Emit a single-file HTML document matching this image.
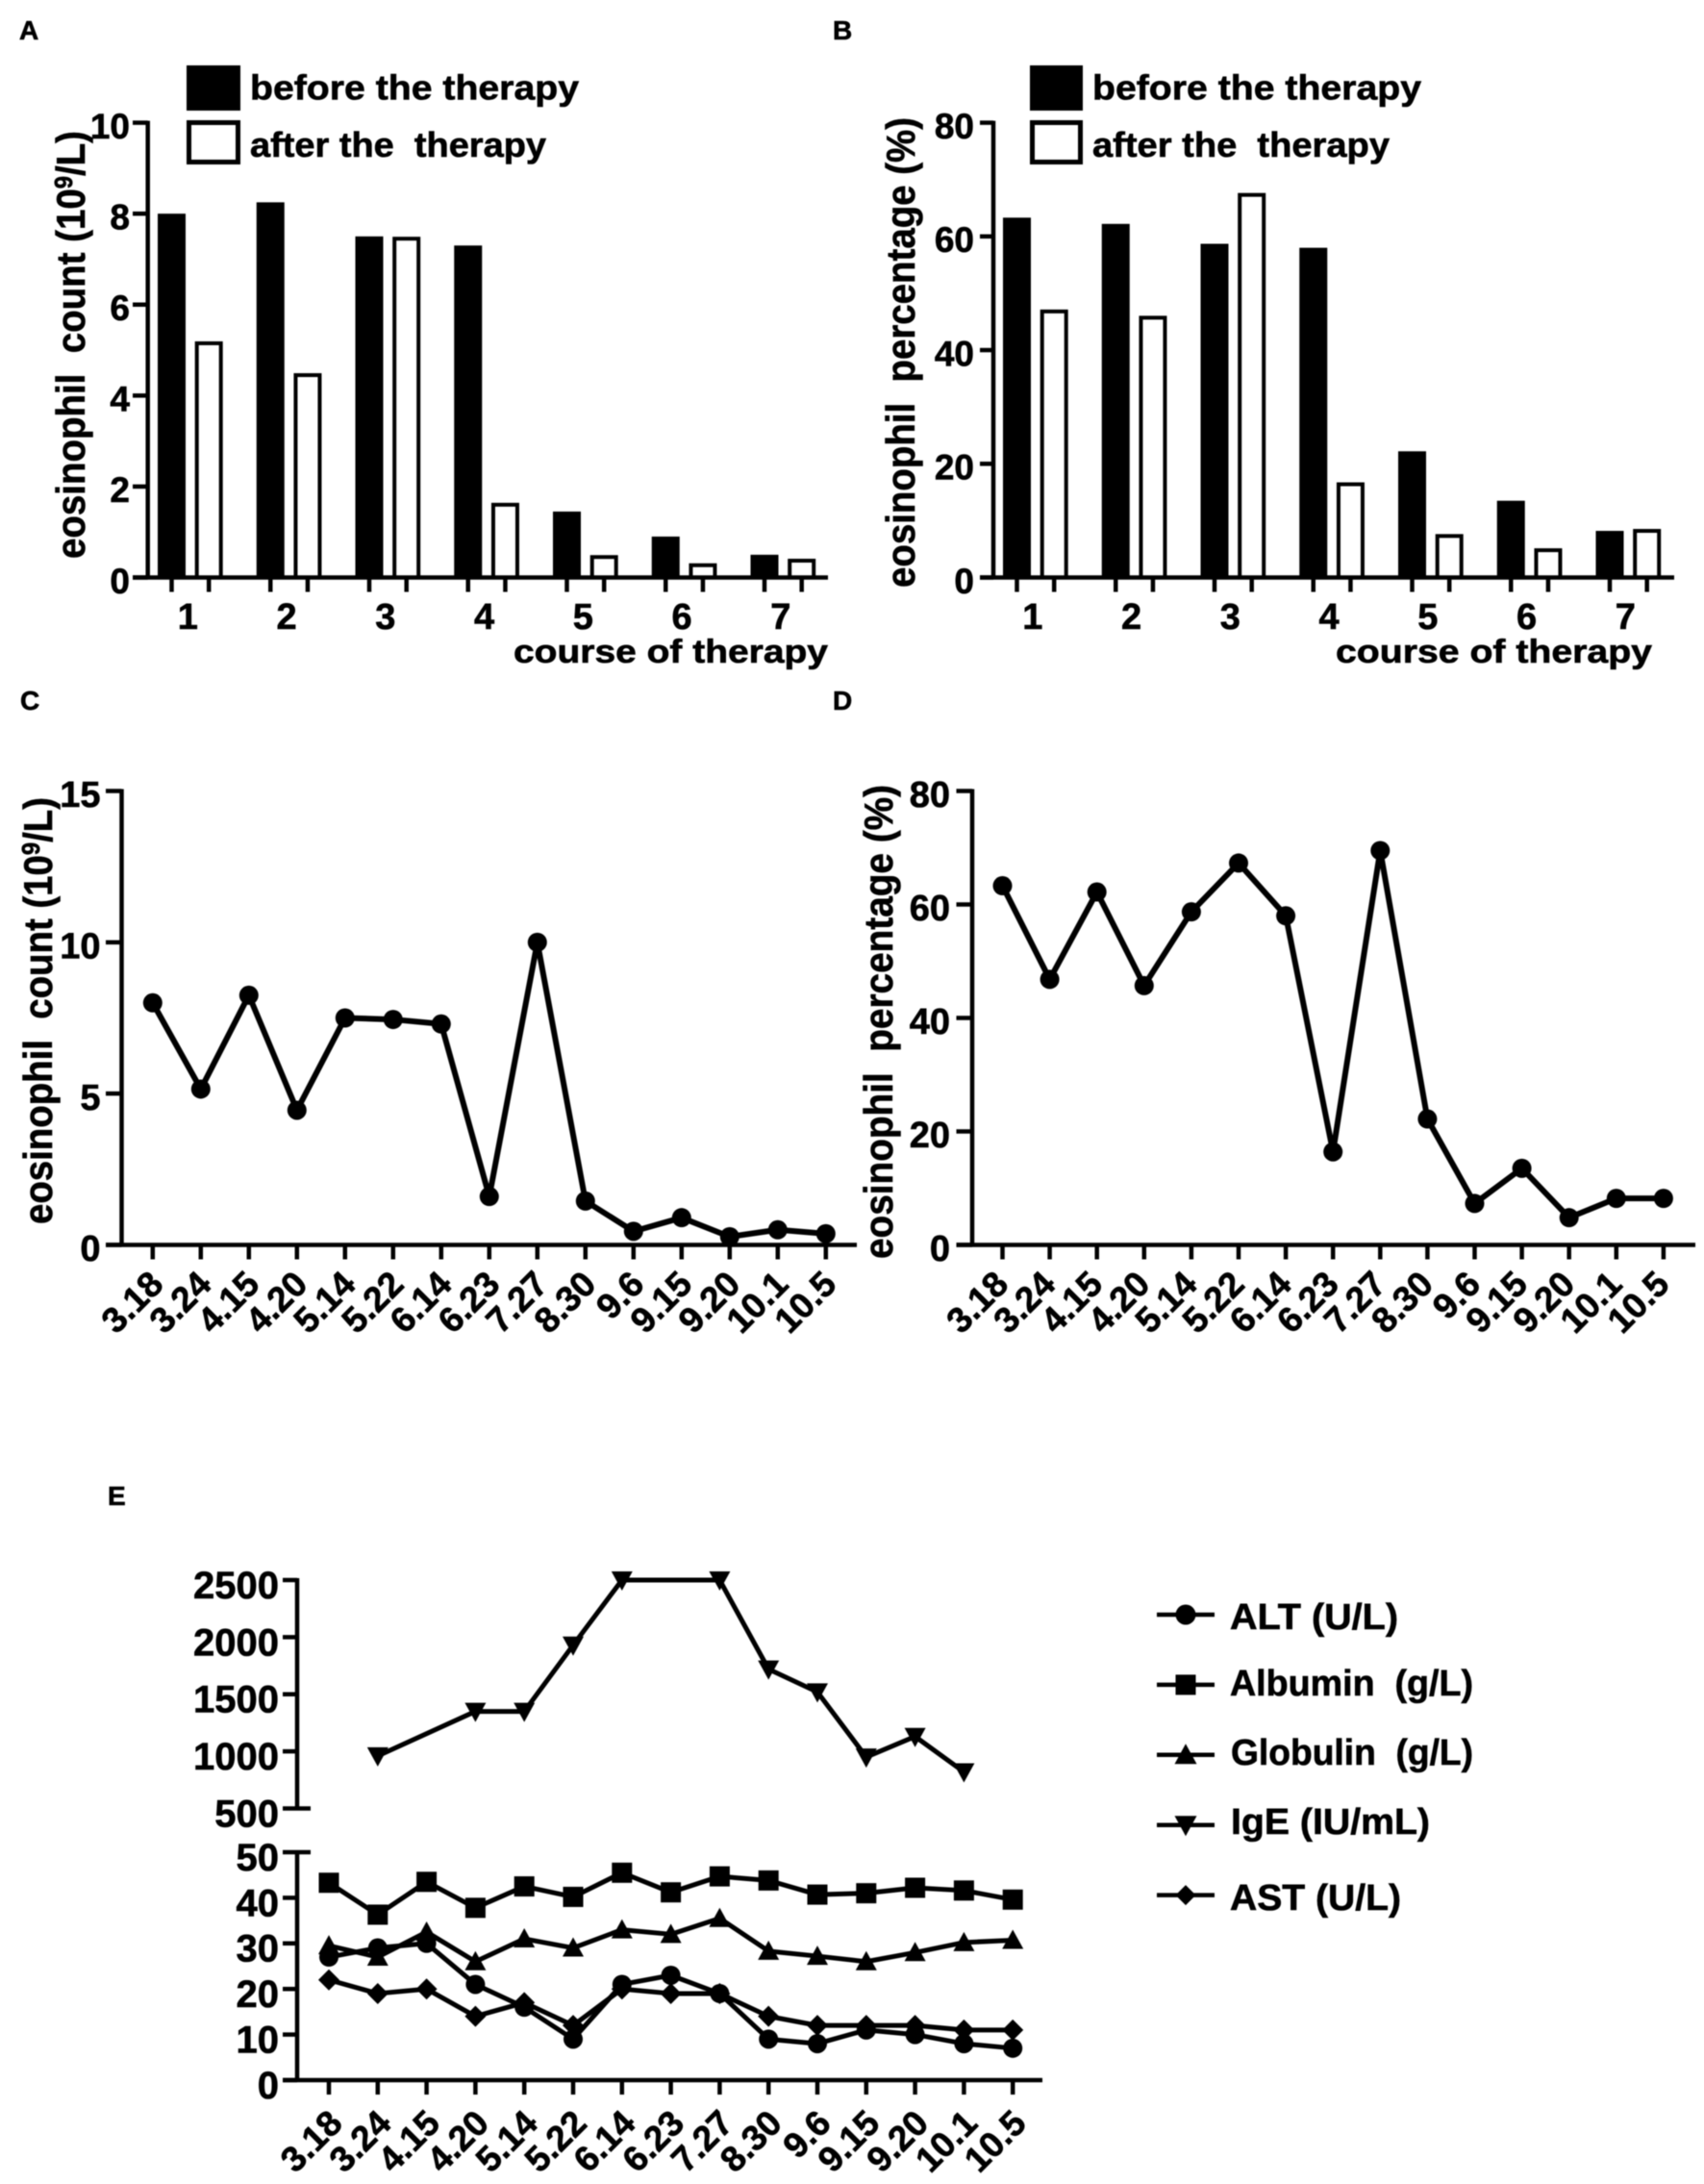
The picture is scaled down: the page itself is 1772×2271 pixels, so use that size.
<!DOCTYPE html>
<html lang="en">
<head>
<meta charset="utf-8">
<title>Eosinophil and laboratory values over therapy</title>
<style>
html,body{margin:0;padding:0;background:#fff}
#figure{display:block;filter:blur(0.6px)}
text{font-family:"Liberation Sans",Arial,sans-serif;font-weight:bold;fill:#000;stroke:#000;stroke-width:0.6px;white-space:pre}
</style>
</head>
<body>
<svg id="figure" xmlns="http://www.w3.org/2000/svg" width="1772" height="2271" viewBox="0 0 1772 2271">
  <rect x="0" y="0" width="1772" height="2271" fill="#fff"/>

  <text x="20" y="41" font-size="28">A</text>
  <text x="866" y="41" font-size="28">B</text>
  <text x="21" y="738" font-size="28">C</text>
  <text x="866" y="738" font-size="28">D</text>
  <text x="112" y="1565" font-size="28">E</text>

  <g id="panelA">
    <rect x="194" y="68" width="56" height="47" fill="#000"/>
    <rect x="196.5" y="127.5" width="51" height="41" fill="#fff" stroke="#000" stroke-width="5"/>
    <text x="260" y="103.5" font-size="36" textLength="342" lengthAdjust="spacingAndGlyphs">before the therapy</text>
    <text x="260" y="163" font-size="36" textLength="308" lengthAdjust="spacingAndGlyphs">after the  therapy</text>
    <text transform="translate(88,581) rotate(-90)" font-size="42" textLength="445" lengthAdjust="spacingAndGlyphs">eosinophil  count (10<tspan dy="-13" font-size="26">9</tspan><tspan dy="13">/L)</tspan></text>
    <text x="534" y="689" font-size="34" textLength="327" lengthAdjust="spacingAndGlyphs">course of therapy</text>
  </g>

  <g id="panelB">
    <rect x="1071" y="68" width="55" height="47" fill="#000"/>
    <rect x="1073.5" y="127.5" width="50" height="41" fill="#fff" stroke="#000" stroke-width="5"/>
    <text x="1136" y="103.5" font-size="36" textLength="342" lengthAdjust="spacingAndGlyphs">before the therapy</text>
    <text x="1136" y="163" font-size="36" textLength="309" lengthAdjust="spacingAndGlyphs">after the  therapy</text>
    <text transform="translate(951,611) rotate(-90)" font-size="42" textLength="489" lengthAdjust="spacingAndGlyphs">eosinophil  percentage (%)</text>
    <text x="1389" y="689" font-size="34" textLength="329" lengthAdjust="spacingAndGlyphs">course of therapy</text>
  </g>

  <g id="panelC">
    <text transform="translate(54,1273) rotate(-90)" font-size="42" textLength="444" lengthAdjust="spacingAndGlyphs">eosinophil  count (10<tspan dy="-13" font-size="26">9</tspan><tspan dy="13">/L)</tspan></text>
  </g>

  <g id="panelD">
    <text transform="translate(928,1309) rotate(-90)" font-size="42" textLength="493" lengthAdjust="spacingAndGlyphs">eosinophil  percentage (%)</text>
  </g>

  <g id="panelE"></g>

  <g id="legendE">
    <text x="1279" y="1694" font-size="38" textLength="175" lengthAdjust="spacingAndGlyphs">ALT (U/L)</text>
    <text x="1279" y="1763" font-size="38" textLength="253" lengthAdjust="spacingAndGlyphs">Albumin  (g/L)</text>
    <text x="1280" y="1835" font-size="38" textLength="252" lengthAdjust="spacingAndGlyphs">Globulin  (g/L)</text>
    <text x="1280" y="1907" font-size="38" textLength="207" lengthAdjust="spacingAndGlyphs">IgE (IU/mL)</text>
    <text x="1279" y="1986" font-size="38" textLength="178" lengthAdjust="spacingAndGlyphs">AST (U/L)</text>
  </g>
</svg>

<script>
// ---- chart data ----
var courses = ['1', '2', '3', '4', '5', '6', '7'];
var countBefore = [8, 8.25, 7.5, 7.3, 1.45, 0.9, 0.5];
var countAfter = [5.15, 4.45, 7.45, 1.6, 0.45, 0.27, 0.37];
var percentBefore = [63.3, 62.2, 58.7, 58, 22.2, 13.5, 8.2];
var percentAfter = [46.8, 45.7, 67.3, 16.4, 7.3, 4.8, 8.2];

var dates = ['3.18', '3.24', '4.15', '4.20', '5.14', '5.22', '6.14', '6.23', '7.27', '8.30', '9.6', '9.15', '9.20', '10.1', '10.5'];
var countSeries = [8, 5.15, 8.25, 4.45, 7.5, 7.45, 7.3, 1.6, 10, 1.45, 0.45, 0.9, 0.27, 0.5, 0.37];
var percentSeries = [63.3, 46.8, 62.2, 45.7, 58.7, 67.3, 58, 16.4, 69.5, 22.2, 7.3, 13.5, 4.8, 8.2, 8.2];

var altSeries = [27, 29, 30, 21, 16, 9, 21, 23, 19, 9, 8, 11, 10, 8, 7];
var albuminSeries = [43.3, 36.3, 43.5, 37.8, 42.5, 40.2, 45.5, 41.2, 44.7, 43.8, 40.7, 41, 42.2, 41.6, 39.6];
var globulinSeries = [29.5, 27, 32.5, 26, 31, 29, 33, 32, 35.5, 28.3, 27.2, 26, 28, 30.2, 30.7];
var igeSeries = [null, 960, null, 1350, 1350, 1930, 2500, null, 2500, 1720, 1520, 950, 1130, 820, null];
var astSeries = [22, 19, 20, 14, 17, 12, 20, 19, 19, 14, 12, 12, 12, 11, 11];

var countBarTicks = [0, 2, 4, 6, 8, 10];
var percentBarTicks = [0, 20, 40, 60, 80];
var countLineTicks = [0, 5, 10, 15];
var percentLineTicks = [0, 20, 40, 60, 80];
var igeTicks = [500, 1000, 1500, 2000, 2500];
var labTicks = [0, 10, 20, 30, 40, 50];

// ---- helpers ----
var NS = 'http://www.w3.org/2000/svg';
function make(tag, parent, attrs) {
  var el = document.createElementNS(NS, tag);
  for (var k in attrs) el.setAttribute(k, attrs[k]);
  parent.appendChild(el);
  return el;
}
function linear(d0, d1, r0, r1) {
  return function (v) { return r0 + (v - d0) * (r1 - r0) / (d1 - d0); };
}
function drawLine(parent, x1, y1, x2, y2, w, name) {
  var el = make('line', parent, { x1: x1, y1: y1, x2: x2, y2: y2, stroke: '#000', 'stroke-width': w });
  
  
  return el;
}
function yTicks(parent, ticks, y, tickLeft, tickRight, labelRight, size, shift) {
  ticks.forEach(function (t) {
    drawLine(parent, tickLeft, y(t), tickRight, y(t), 4.5, 'y-tick');
    var lab = make('text', parent, { x: labelRight, y: y(t) + size * 0.36 + shift, 'font-size': size, 'text-anchor': 'end' });
    
    
    lab.textContent = t;
  });
}
function rotatedLabels(parent, labels, x, axisY, dx, dy) {
  labels.forEach(function (d, i) {
    drawLine(parent, x(i), axisY, x(i), axisY + 15, 4.5, 'x-tick');
    var px = x(i) + dx, py = axisY + dy;
    var lab = make('text', parent, { x: px, y: py, 'font-size': 37, 'text-anchor': 'end', transform: 'rotate(-45 ' + px + ' ' + py + ')' });
    
    
    lab.textContent = d;
  });
}
function marker(parent, shape, cx, cy, r, name) {
  var el;
  if (shape === 'circle') {
    el = make('circle', parent, { cx: cx, cy: cy, r: r, fill: '#000' });
  } else if (shape === 'square') {
    el = make('rect', parent, { x: cx - r, y: cy - r, width: 2 * r, height: 2 * r, fill: '#000' });
  } else {
    var pts;
    if (shape === 'up') pts = [[cx, cy - r - 1], [cx + r + 1, cy + r - 1], [cx - r - 1, cy + r - 1]];
    if (shape === 'down') pts = [[cx, cy + r + 1], [cx + r + 1, cy - r + 1], [cx - r - 1, cy - r + 1]];
    if (shape === 'diamond') pts = [[cx, cy - r], [cx + r, cy], [cx, cy + r], [cx - r, cy]];
    el = make('polygon', parent, { points: pts.map(function (p) { return p.join(','); }).join(' '), fill: '#000' });
  }
  
  
  return el;
}
function drawSeries(parent, values, x, y, shape, r, width, name) {
  var g = make('g', parent, {});
  
  
  var pts = [];
  values.forEach(function (v, i) { if (v !== null) pts.push(x(i) + ',' + y(v)); });
  var line = make('polyline', g, { points: pts.join(' '), fill: 'none', stroke: '#000', 'stroke-width': width, 'stroke-linejoin': 'round' });
  
  
  values.forEach(function (v, i) {
    if (v !== null) marker(g, shape, x(i), y(v), r, name + '-point');
  });
}

function barPanel(parent, before, after, ticks, maxV, axisX, axisEnd, tickLeft, labelRight, firstX, labelShift) {
  var y = linear(0, maxV, 600.5, 127.6);
  var gx = function (i) { return firstX + i * 102.75; };
  courses.forEach(function (c, i) {
    var bx = gx(i), ax = gx(i) + 38.7;
    var barB = make('rect', parent, { x: bx - 14.5, y: y(before[i]), width: 29, height: y(0) - y(before[i]), fill: '#000' });
    
    
    var barA = make('rect', parent, { x: ax - 12.5, y: y(after[i]), width: 25, height: y(0) - y(after[i]), fill: '#fff', stroke: '#000', 'stroke-width': 4 });
    
    
    drawLine(parent, bx, y(0), bx, y(0) + 15, 4.5, 'x-tick');
    drawLine(parent, ax, y(0), ax, y(0) + 15, 4.5, 'x-tick');
    var lab = make('text', parent, { x: bx + 19.3 + labelShift, y: 654, 'font-size': 38, 'text-anchor': 'middle' });
    
    
    lab.textContent = c;
  });
  drawLine(parent, axisX, y(maxV) - 2, axisX, y(0), 4.5, 'y-axis');
  drawLine(parent, tickLeft, y(0), axisEnd, y(0), 4.5, 'x-axis');
  yTicks(parent, ticks, y, tickLeft, axisX, labelRight, 37, 3);
}

function linePanel(parent, values, ticks, maxV, axisX, axisEnd, tickLeft, labelRight, firstX, step, dx, dy) {
  var y = linear(0, maxV, 1294.5, 822.5);
  var x = function (i) { return firstX + i * step; };
  drawLine(parent, axisX, y(maxV) - 2, axisX, y(0), 4.5, 'y-axis');
  drawLine(parent, tickLeft, y(0), axisEnd, y(0), 4.5, 'x-axis');
  yTicks(parent, ticks, y, tickLeft, axisX, labelRight, 38, 3);
  rotatedLabels(parent, dates, x, y(0), dx, dy);
  drawSeries(parent, values, x, y, 'circle', 10, 6, 'eosinophil');
}

// ---- panels A-D ----
barPanel(document.getElementById('panelA'), countBefore, countAfter, countBarTicks, 10, 153.7, 861, 138, 135, 178.5, -2.5);
barPanel(document.getElementById('panelB'), percentBefore, percentAfter, percentBarTicks, 80, 1033, 1741, 1019, 1013, 1057.5, -3);
linePanel(document.getElementById('panelC'), countSeries, countLineTicks, 15, 126.5, 891, 110, 104.5, 158.8, 50, 13, 43);
linePanel(document.getElementById('panelD'), percentSeries, percentLineTicks, 80, 1011, 1763, 994.5, 988, 1042.5, 49.1, 8, 43);

// ---- panel E ----
(function () {
  var p = document.getElementById('panelE');
  var x = function (i) { return 342 + i * 50.8; };
  var yUpper = linear(500, 2500, 1880.5, 1643);
  var yLower = linear(0, 50, 2163, 1926);
  var axisX = 309;
  drawLine(p, axisX, yUpper(2500) - 2, axisX, yUpper(500) + 2, 4.5, 'y-axis-upper');
  drawLine(p, axisX, yLower(50) - 2, axisX, yLower(0), 4.5, 'y-axis-lower');
  drawLine(p, 294, yLower(0), 1084, yLower(0), 4.5, 'x-axis');
  yTicks(p, igeTicks, yUpper, 294, axisX, 290, 40, 4.5);
  yTicks(p, labTicks, yLower, 294, axisX, 290, 40, 4.5);
  drawLine(p, axisX, yUpper(500), 323, yUpper(500), 4.5, 'axis-break-upper');
  drawLine(p, axisX, yLower(50), 323, yLower(50), 4.5, 'axis-break-lower');
  rotatedLabels(p, dates, x, yLower(0), 16, 47);
  drawSeries(p, igeSeries, x, yUpper, 'down', 10, 5, 'ige');
  drawSeries(p, albuminSeries, x, yLower, 'square', 10.5, 5, 'albumin');
  drawSeries(p, globulinSeries, x, yLower, 'up', 10, 5, 'globulin');
  drawSeries(p, altSeries, x, yLower, 'circle', 10, 5, 'alt');
  drawSeries(p, astSeries, x, yLower, 'diamond', 11, 5, 'ast');
})();

// ---- panel E legend glyphs ----
var legendShapes = ['circle', 'square', 'up', 'down', 'diamond'];
var legendNames = ['alt', 'albumin', 'globulin', 'ige', 'ast'];
(function () {
  var g = document.getElementById('legendE');
  legendShapes.forEach(function (s, i) {
    var ly = 1679 + i * 72.9;
    drawLine(g, 1203, ly, 1263, ly, 4.5, 'legend-line-' + legendNames[i]);
    marker(g, s, 1233, ly, 10.5, 'legend-marker-' + legendNames[i]);
  });
})();
</script>
</body>
</html>
